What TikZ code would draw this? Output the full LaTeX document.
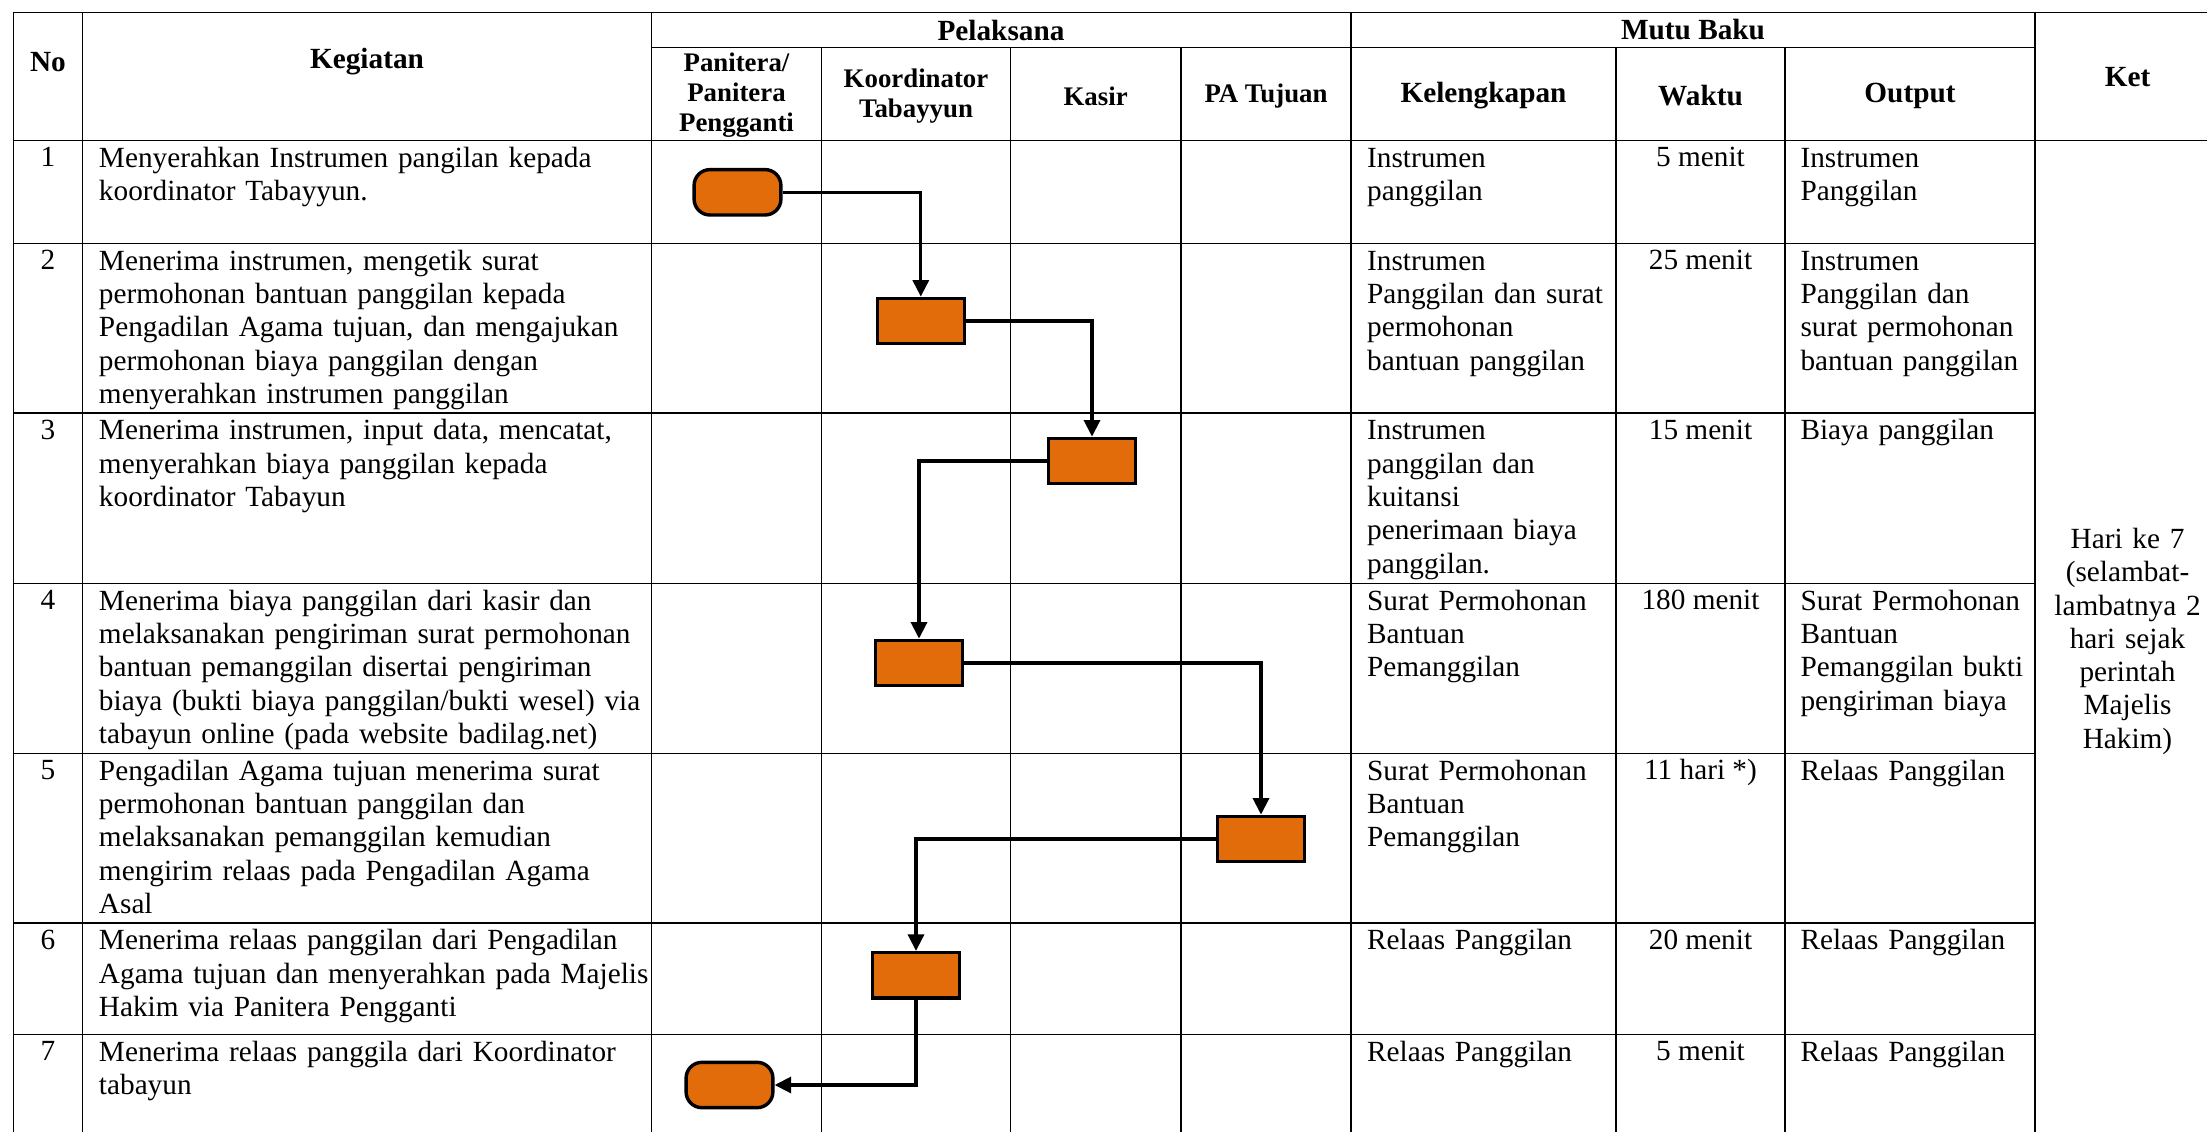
\documentclass[tikz,border=0pt]{standalone}
\usepackage{fontspec}
\setmainfont{Liberation Serif}
\usetikzlibrary{arrows.meta}
\definecolor{flow}{HTML}{E36C0A}
\begin{document}
\begin{tikzpicture}[x=0.41pt,y=-0.41pt,
  grid/.style={line width=0.5pt},
  hd/.style={font=\fontsize{12}{14}\selectfont\bfseries, align=center, inner sep=0pt},
  hds/.style={font=\fontsize{11}{12.2}\selectfont\bfseries, align=center, inner sep=0pt},
  txt/.style={font=\fontsize{12}{13.65}\selectfont, anchor=north west, inner sep=0pt,
              align=left, text width=#1, execute at begin node={\rule{0pt}{10pt}}},
  num/.style={font=\fontsize{12}{13.65}\selectfont, anchor=base, inner sep=0pt},
  ketx/.style={font=\fontsize{12}{13.65}\selectfont, anchor=north, inner sep=0pt,
              align=center, text width=80pt, execute at begin node={\rule{0pt}{10pt}}},
  proc/.style={draw, line width=1.4pt, fill=flow, rectangle, minimum width=35.6pt, minimum height=18.6pt, inner sep=0pt},
  term/.style={proc, rounded corners=6.5pt},
  conn/.style={line width=1.3pt, -{Triangle[length=6.8pt,width=6.6pt]}}
]
\useasboundingbox (0,0) rectangle (2207,1132);
\clip (0,0) rectangle (2207,1132);

% grid
\draw[grid] (13.3,12.7) -- (2230,12.7);
\draw[grid] (651.3,47.3) -- (2035,47.3);
\draw[grid] (13.3,140.3) -- (2230,140.3);
\foreach \yy in {243.3,413,583.3,753.3,923,1034.3}
  \draw[grid] (13.3,\yy) -- (2035,\yy);
\foreach \xx in {13.3,82.7,651.3,1351,2035}
  \draw[grid] (\xx,12.7) -- (\xx,1140);
\foreach \xx in {821.7,1010.3,1181,1616,1785}
  \draw[grid] (\xx,47.3) -- (\xx,1140);

% header
\node[hd] (hNo) at (48,62) {No};
\node[hd] (hKeg) at (367,62) {Kegiatan};
\node[hd] (hPel) at (1001,30) {Pelaksana};
\node[hd] (hMutu) at (1693,30) {Mutu Baku};
\node[hd] (hKet) at (2127.5,77) {Ket};
\node[hds] (hPan) at (736.5,95) {Panitera/\\Panitera\\Pengganti};
\node[hds] (hKoor) at (916,96) {Koordinator\\Tabayyun};
\node[hds] (hKas) at (1095.6,96) {Kasir};
\node[hds] (hPA) at (1266,96) {PA Tujuan};
\node[hd] (hKel) at (1483.5,96) {Kelengkapan};
\node[hd] (hWak) at (1700.5,96) {Waktu};
\node[hd] (hOut) at (1910,96) {Output};

% row 1
\node[num] (n1) at (48,166.8) {1};
\node[txt=240pt] (k1) at (98.5,142.4) {Menyerahkan Instrumen pangilan kepada\\koordinator Tabayyun.};
\node[txt=110pt] (l1) at (1366.7,142.4) {Instrumen\\panggilan};
\node[num] (w1) at (1700.5,166.8) {5 menit};
\node[txt=110pt] (o1) at (1800,142.4) {Instrumen\\Panggilan};

% row 2
\node[num] (n2) at (48,269.8) {2};
\node[txt=240pt] (k2) at (98.5,245.4) {Menerima instrumen, mengetik surat\\permohonan bantuan panggilan kepada\\Pengadilan Agama tujuan, dan mengajukan\\permohonan biaya panggilan dengan\\menyerahkan instrumen panggilan};
\node[txt=110pt] (l2) at (1366.7,245.4) {Instrumen\\Panggilan dan surat\\permohonan\\bantuan panggilan};
\node[num] (w2) at (1700.5,269.8) {25 menit};
\node[txt=110pt] (o2) at (1800,245.4) {Instrumen\\Panggilan dan\\surat permohonan\\bantuan panggilan};

% row 3
\node[num] (n3) at (48,439.5) {3};
\node[txt=240pt] (k3) at (98.5,415.1) {Menerima instrumen, input data, mencatat,\\menyerahkan biaya panggilan kepada\\koordinator Tabayun};
\node[txt=110pt] (l3) at (1366.7,415.1) {Instrumen\\panggilan dan\\kuitansi\\penerimaan biaya\\panggilan.};
\node[num] (w3) at (1700.5,439.5) {15 menit};
\node[txt=110pt] (o3) at (1800,415.1) {Biaya panggilan};

% row 4
\node[num] (n4) at (48,609.8) {4};
\node[txt=240pt] (k4) at (98.5,585.4) {Menerima biaya panggilan dari kasir dan\\melaksanakan pengiriman surat permohonan\\bantuan pemanggilan disertai pengiriman\\biaya (bukti biaya panggilan/bukti wesel) via\\tabayun online (pada website badilag.net)};
\node[txt=110pt] (l4) at (1366.7,585.4) {Surat Permohonan\\Bantuan\\Pemanggilan};
\node[num] (w4) at (1700.5,609.8) {180 menit};
\node[txt=110pt] (o4) at (1800,585.4) {Surat Permohonan\\Bantuan\\Pemanggilan bukti\\pengiriman biaya};

% row 5
\node[num] (n5) at (48,779.8) {5};
\node[txt=240pt] (k5) at (98.5,755.4) {Pengadilan Agama tujuan menerima surat\\permohonan bantuan panggilan dan\\melaksanakan pemanggilan kemudian\\mengirim relaas pada Pengadilan Agama\\Asal};
\node[txt=110pt] (l5) at (1366.7,755.4) {Surat Permohonan\\Bantuan\\Pemanggilan};
\node[num] (w5) at (1700.5,779.8) {11 hari *)};
\node[txt=110pt] (o5) at (1800,755.4) {Relaas Panggilan};

% row 6
\node[num] (n6) at (48,949.5) {6};
\node[txt=240pt] (k6) at (98.5,925.1) {Menerima relaas panggilan dari Pengadilan\\Agama tujuan dan menyerahkan pada Majelis\\Hakim via Panitera Pengganti};
\node[txt=110pt] (l6) at (1366.7,925.1) {Relaas Panggilan};
\node[num] (w6) at (1700.5,949.5) {20 menit};
\node[txt=110pt] (o6) at (1800,925.1) {Relaas Panggilan};

% row 7
\node[num] (n7) at (48,1060.8) {7};
\node[txt=240pt] (k7) at (98.5,1036.4) {Menerima relaas panggila dari Koordinator\\tabayun};
\node[txt=110pt] (l7) at (1366.7,1036.4) {Relaas Panggilan};
\node[num] (w7) at (1700.5,1060.8) {5 menit};
\node[txt=110pt] (o7) at (1800,1036.4) {Relaas Panggilan};

% ket
\node[ketx] (ket) at (2127.5,523.6) {Hari ke 7\\(selambat-\\lambatnya 2\\hari sejak\\perintah\\Majelis\\Hakim)};

% flow
\node[term] (t1) at (737.5,192.3) {};
\node[proc] (b2) at (920.8,321) {};
\node[proc] (b3) at (1092,461) {};
\node[proc] (b4) at (919,663) {};
\node[proc] (b5) at (1261,839) {};
\node[proc] (b6) at (916,975.3) {};
\node[term] (t7) at (729.5,1085) {};

\draw[conn] (t1.east) -| (b2.north);
\draw[conn] (b2.east) -| (b3.north);
\draw[conn] (b3.west) -| (b4.north);
\draw[conn] (b4.east) -| (b5.north);
\draw[conn] (b5.west) -| (b6.north);
\draw[conn] (b6.south) |- (t7.east);
\end{tikzpicture}
\end{document}
